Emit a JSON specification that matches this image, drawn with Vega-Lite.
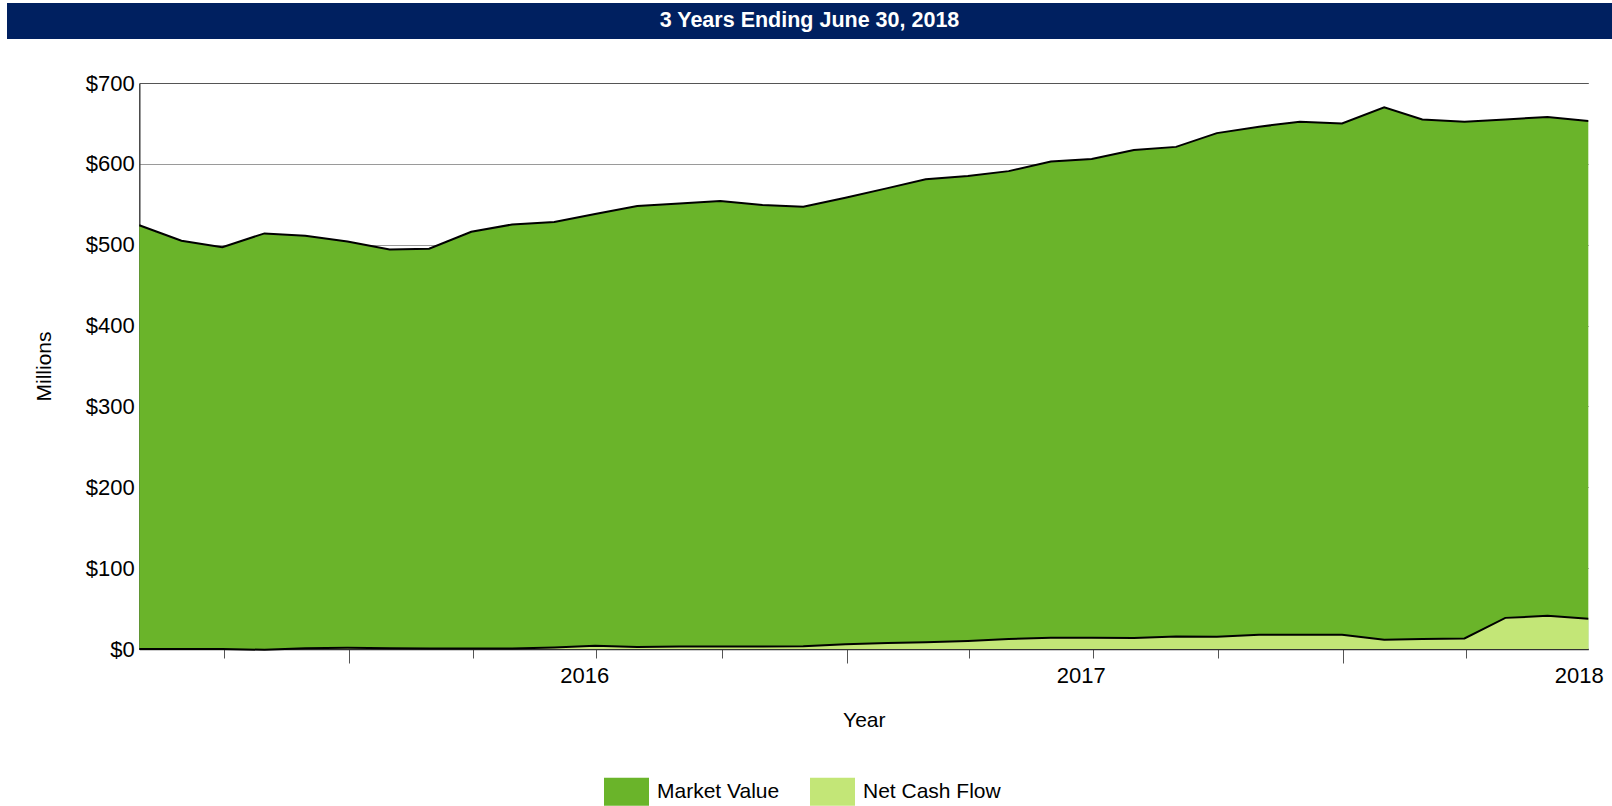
{
  "$schema": "https://vega.github.io/schema/vega-lite/v6.json",
  "background": "white",
  "padding": {"left": 7, "top": 3, "right": 0, "bottom": 0},
  "spacing": 33,
  "resolve": {"scale": {"color": "independent"}, "legend": {"color": "independent"}},
  "config": {
    "font": "Liberation Sans, Arial, sans-serif",
    "view": {"stroke": null}
  },
  "vconcat": [
    {
      "width": 1605,
      "height": 36,
      "view": {"fill": "#002060", "stroke": null},
      "data": {"values": [{"t": "3 Years Ending June 30, 2018"}]},
      "mark": {"type": "text", "color": "white", "fontSize": 21.5, "fontWeight": "bold", "baseline": "middle", "align": "center"},
      "encoding": {"text": {"field": "t", "type": "nominal"}}
    },
    {
      "width": 1605,
      "height": 566,
      "data": {"values": [
        {"date": "2015-07-31", "series": "Market Value", "value": 524},
        {"date": "2015-08-31", "series": "Market Value", "value": 505},
        {"date": "2015-09-30", "series": "Market Value", "value": 497},
        {"date": "2015-10-31", "series": "Market Value", "value": 514},
        {"date": "2015-11-30", "series": "Market Value", "value": 511},
        {"date": "2015-12-31", "series": "Market Value", "value": 504},
        {"date": "2016-01-31", "series": "Market Value", "value": 494},
        {"date": "2016-02-29", "series": "Market Value", "value": 495},
        {"date": "2016-03-31", "series": "Market Value", "value": 516},
        {"date": "2016-04-30", "series": "Market Value", "value": 525},
        {"date": "2016-05-31", "series": "Market Value", "value": 528},
        {"date": "2016-06-30", "series": "Market Value", "value": 538},
        {"date": "2016-07-31", "series": "Market Value", "value": 548},
        {"date": "2016-08-31", "series": "Market Value", "value": 551},
        {"date": "2016-09-30", "series": "Market Value", "value": 554},
        {"date": "2016-10-31", "series": "Market Value", "value": 549},
        {"date": "2016-11-30", "series": "Market Value", "value": 547},
        {"date": "2016-12-31", "series": "Market Value", "value": 558},
        {"date": "2017-01-31", "series": "Market Value", "value": 570},
        {"date": "2017-02-28", "series": "Market Value", "value": 581},
        {"date": "2017-03-31", "series": "Market Value", "value": 585},
        {"date": "2017-04-30", "series": "Market Value", "value": 591},
        {"date": "2017-05-31", "series": "Market Value", "value": 603},
        {"date": "2017-06-30", "series": "Market Value", "value": 606},
        {"date": "2017-07-31", "series": "Market Value", "value": 617},
        {"date": "2017-08-31", "series": "Market Value", "value": 621},
        {"date": "2017-09-30", "series": "Market Value", "value": 638},
        {"date": "2017-10-31", "series": "Market Value", "value": 646},
        {"date": "2017-11-30", "series": "Market Value", "value": 652},
        {"date": "2017-12-31", "series": "Market Value", "value": 650},
        {"date": "2018-01-31", "series": "Market Value", "value": 670},
        {"date": "2018-02-28", "series": "Market Value", "value": 655},
        {"date": "2018-03-31", "series": "Market Value", "value": 652},
        {"date": "2018-04-30", "series": "Market Value", "value": 655},
        {"date": "2018-05-31", "series": "Market Value", "value": 658},
        {"date": "2018-06-30", "series": "Market Value", "value": 653},
        {"date": "2015-07-31", "series": "Net Cash Flow", "value": 0},
        {"date": "2015-08-31", "series": "Net Cash Flow", "value": 0},
        {"date": "2015-09-30", "series": "Net Cash Flow", "value": 0},
        {"date": "2015-10-31", "series": "Net Cash Flow", "value": -1},
        {"date": "2015-11-30", "series": "Net Cash Flow", "value": 1},
        {"date": "2015-12-31", "series": "Net Cash Flow", "value": 1.5},
        {"date": "2016-01-31", "series": "Net Cash Flow", "value": 1},
        {"date": "2016-02-29", "series": "Net Cash Flow", "value": 0.5},
        {"date": "2016-03-31", "series": "Net Cash Flow", "value": 0.5},
        {"date": "2016-04-30", "series": "Net Cash Flow", "value": 0.5},
        {"date": "2016-05-31", "series": "Net Cash Flow", "value": 2},
        {"date": "2016-06-30", "series": "Net Cash Flow", "value": 4},
        {"date": "2016-07-31", "series": "Net Cash Flow", "value": 2.5},
        {"date": "2016-08-31", "series": "Net Cash Flow", "value": 3},
        {"date": "2016-09-30", "series": "Net Cash Flow", "value": 3},
        {"date": "2016-10-31", "series": "Net Cash Flow", "value": 3},
        {"date": "2016-11-30", "series": "Net Cash Flow", "value": 3.5},
        {"date": "2016-12-31", "series": "Net Cash Flow", "value": 6},
        {"date": "2017-01-31", "series": "Net Cash Flow", "value": 7.5},
        {"date": "2017-02-28", "series": "Net Cash Flow", "value": 8.5},
        {"date": "2017-03-31", "series": "Net Cash Flow", "value": 10},
        {"date": "2017-04-30", "series": "Net Cash Flow", "value": 12.5},
        {"date": "2017-05-31", "series": "Net Cash Flow", "value": 13.8},
        {"date": "2017-06-30", "series": "Net Cash Flow", "value": 13.8},
        {"date": "2017-07-31", "series": "Net Cash Flow", "value": 13.5},
        {"date": "2017-08-31", "series": "Net Cash Flow", "value": 15.5},
        {"date": "2017-09-30", "series": "Net Cash Flow", "value": 15},
        {"date": "2017-10-31", "series": "Net Cash Flow", "value": 17.5},
        {"date": "2017-11-30", "series": "Net Cash Flow", "value": 17.5},
        {"date": "2017-12-31", "series": "Net Cash Flow", "value": 17.5},
        {"date": "2018-01-31", "series": "Net Cash Flow", "value": 11.5},
        {"date": "2018-02-28", "series": "Net Cash Flow", "value": 12.5},
        {"date": "2018-03-31", "series": "Net Cash Flow", "value": 13},
        {"date": "2018-04-30", "series": "Net Cash Flow", "value": 38.5},
        {"date": "2018-05-31", "series": "Net Cash Flow", "value": 41},
        {"date": "2018-06-30", "series": "Net Cash Flow", "value": 37.5}
      ]},
      "layer": [
        {
          "transform": [{"filter": "datum.series === 'Market Value'"}],
          "mark": {"type": "area", "opacity": 1},
          "encoding": {
            "x": {
              "field": "date", "type": "temporal",
              "scale": {"type": "utc", "range": [132.3, 1581.3], "domain": [{"year": 2015, "month": 7, "date": 31, "utc": true}, {"year": 2018, "month": 6, "date": 30, "utc": true}]},
              "axis": {
                "values": [
                  {"year": 2015, "month": 10, "date": 1, "utc": true},
                  {"year": 2016, "month": 1, "date": 1, "utc": true},
                  {"year": 2016, "month": 4, "date": 1, "utc": true},
                  {"year": 2016, "month": 6, "date": 22, "utc": true},
                  {"year": 2016, "month": 7, "date": 1, "utc": true},
                  {"year": 2016, "month": 10, "date": 1, "utc": true},
                  {"year": 2017, "month": 1, "date": 1, "utc": true},
                  {"year": 2017, "month": 4, "date": 1, "utc": true},
                  {"year": 2017, "month": 6, "date": 22, "utc": true},
                  {"year": 2017, "month": 7, "date": 1, "utc": true},
                  {"year": 2017, "month": 10, "date": 1, "utc": true},
                  {"year": 2018, "month": 1, "date": 1, "utc": true},
                  {"year": 2018, "month": 4, "date": 1, "utc": true},
                  {"year": 2018, "month": 6, "date": 23, "utc": true}
                ],
                "labelExpr": "utcmonth(datum.value) === 5 ? utcFormat(datum.value, '%Y') : ''",
                "labelOverlap": false,
                "labelFlush": false,
                "labelBound": false,
                "tickSize": {"condition": {"test": "utcmonth(datum.value) === 0", "value": 14}, "value": 9},
                "tickOpacity": {"condition": {"test": "utcmonth(datum.value) === 5", "value": 0}, "value": 1},
                "tickColor": "#555555",
                "tickWidth": 1,
                "domainColor": "#333333",
                "domainWidth": 1.5,
                "grid": false,
                "labelFontSize": 22,
                "labelColor": "black",
                "labelPadding": 7,
                "title": "Year",
                "titleFontSize": 21,
                "titleFontWeight": "normal",
                "titleColor": "black",
                "titlePadding": 18
              }
            },
            "y": {
              "field": "value", "type": "quantitative", "stack": null,
              "scale": {"domain": [0, 700], "nice": false},
              "axis": {
                "offset": -132.3,
                "values": [0, 100, 200, 300, 400, 500, 600, 700],
                "labelExpr": "'$' + datum.value",
                "ticks": false,
                "tickSize": 0,
                "labelPadding": 5,
                "labelFontSize": 22,
                "labelColor": "black",
                "domainColor": "#444444",
                "domainWidth": 1.5,
                "grid": true,
                "gridColor": {"condition": {"test": "datum.value === 700", "value": "#555555"}, "value": "#9a9a9a"},
                "gridWidth": 1,
                "title": "Millions",
                "titleFontSize": 21,
                "titleFontWeight": "normal",
                "titleColor": "black",
                "titlePadding": 31
              }
            },
            "color": {
              "field": "series", "type": "nominal",
              "scale": {"domain": ["Market Value", "Net Cash Flow"], "range": ["#6AB42A", "#C3E677"]},
              "legend": {
                "orient": "none", "legendX": 597, "legendY": 686,
                "direction": "horizontal", "title": null,
                "symbolType": "M-1,-0.62H1V0.62H-1Z", "symbolSize": 2025,
                "symbolStrokeWidth": 0, "symbolOpacity": 1,
                "labelFontSize": 21, "labelColor": "black",
                "labelOffset": 8, "columnPadding": 30
              }
            }
          }
        },
        {
          "transform": [{"filter": "datum.series === 'Net Cash Flow'"}],
          "mark": {"type": "area", "opacity": 1},
          "encoding": {
            "x": {"field": "date", "type": "temporal"},
            "y": {"field": "value", "type": "quantitative", "stack": null},
            "color": {"field": "series", "type": "nominal"}
          }
        },
        {
          "mark": {"type": "line", "color": "black", "strokeWidth": 2},
          "encoding": {
            "x": {"field": "date", "type": "temporal"},
            "y": {"field": "value", "type": "quantitative", "stack": null},
            "detail": {"field": "series", "type": "nominal"}
          }
        }
      ]
    }
  ]
}
